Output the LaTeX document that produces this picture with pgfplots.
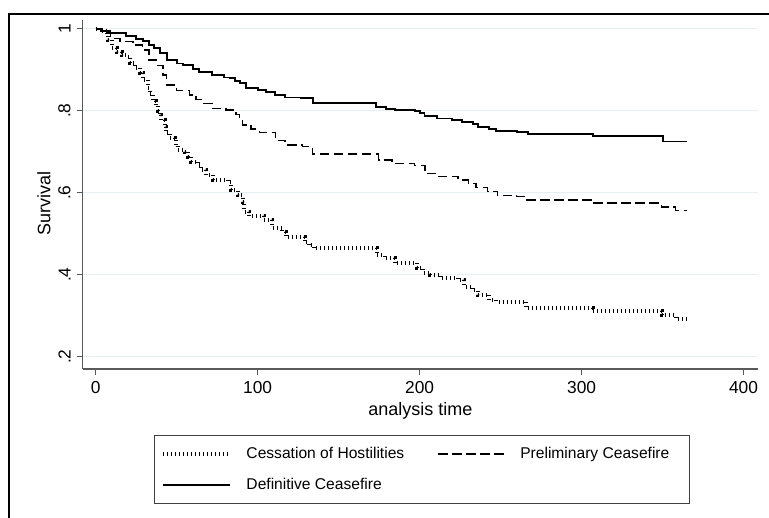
\documentclass[border=0pt]{standalone}
\usepackage{fontspec}
\setmainfont{Liberation Sans}
\usepackage{pgfplots}
\pgfplotsset{compat=1.18}
\begin{document}
\begin{tikzpicture}
\useasboundingbox (0,0) rectangle (576.75pt,-388.5pt);
\draw[line width=1.5pt] (6.9pt,-388.5pt) -- (6.9pt,-10.8pt) -- (576.75pt,-10.8pt);
\begin{axis}[
  at={(62pt,-276.75pt)}, anchor=south west,
  scale only axis, width=506.6pt, height=261.4pt,
  xmin=-8, xmax=409, ymin=0.17, ymax=1.02,
  axis x line*=bottom, axis y line*=left,
  axis line style={draw=black!65, line width=0.8pt, -},
  xtick={0,100,200,300,400},
  ytick={0.2,0.4,0.6,0.8,1}, yticklabels={.2,.4,.6,.8,1},
  tick align=outside, major tick length=4.5pt,
  tick style={draw=black!65, line width=0.8pt},
  ymajorgrids, major grid style={draw={rgb,255:red,232;green,239;blue,243}, line width=1pt},
  /pgf/number format/assume math mode=true,
  ticklabel style={font=\fontsize{13}{15}\selectfont},
  yticklabel style={xshift=-1pt, rotate=90, anchor=south},
  xticklabel style={yshift=-1pt},
  xlabel={analysis time}, ylabel={Survival},
  label style={font=\fontsize{13.5}{16}\selectfont},
  xlabel style={at={(axis description cs:0.5,-0.121)}, anchor=center},
  ylabel style={at={(axis description cs:-0.0575,0.475)}, anchor=center},
  legend columns=2, legend cell align=left,
  legend style={at={(0.1056,-0.1885)}, anchor=north west, draw=black!75, line width=0.75pt,
    font=\fontsize{11.7}{14}\selectfont, inner xsep=5pt, inner ysep=7pt,
    /tikz/every odd column/.append style={column sep=9pt},
    /tikz/every even column/.append style={column sep=23pt}, row sep=9.5pt},
  legend image code/.code={\draw[#1] (0pt,0pt) -- (50pt,0pt);},
]
\addplot[const plot, black, line width=3pt, line cap=butt, dash pattern=on 0.75pt off 2.25pt] coordinates {
(0,1) (2,0.995) (6.9,0.985) (7.9,0.972) (10,0.952) (13,0.944) (16,0.936) (19.2,0.932)
(21.2,0.916) (24.2,0.903) (27.3,0.891) (29.3,0.875) (32.4,0.855) (33.4,0.840) (35.5,0.824)
(37.5,0.814) (38.5,0.800) (39.5,0.789) (40.6,0.777) (42.6,0.761) (43.7,0.745) (45.8,0.733)
(48.8,0.729) (49.9,0.716) (50.9,0.704) (55,0.700) (57.1,0.688) (59.1,0.676) (63.2,0.667)
(65.3,0.655) (68.3,0.643) (72.4,0.631) (81.7,0.625) (83.7,0.607) (87.7,0.594) (90.8,0.578)
(91.8,0.554) (94.8,0.542) (104,0.533) (109,0.515) (115.2,0.505) (117.3,0.493) (129,0.480)
(131.6,0.472) (134.6,0.464) (173.5,0.448) (178.5,0.440) (184.6,0.428) (198.3,0.416)
(202.4,0.405) (206.5,0.400) (212.6,0.391) (223.6,0.387) (227.7,0.371) (232.8,0.363)
(235.9,0.351) (243,0.338) (247.2,0.334) (265.8,0.318) (307,0.311) (349.7,0.302) (358,0.293) (366,0.293)};
\addlegendentry{Cessation of Hostilities}
\addplot[const plot, black, line width=1pt, dash pattern=on 7pt off 3.5pt] coordinates {
(0,1) (4,0.99) (9,0.976) (15,0.968) (23,0.96) (29,0.948) (33,0.924) (37.5,0.911) (41.6,0.887)
(43.7,0.863) (50,0.85) (58,0.838) (62,0.828) (66,0.818) (72,0.806) (80.5,0.802) (86.6,0.79)
(89,0.778) (90.7,0.765) (96,0.755) (101,0.747) (111,0.728) (117,0.716) (127.7,0.712)
(133.8,0.694) (174.6,0.68) (183,0.672) (197,0.667) (203.4,0.647) (211.5,0.639) (223.8,0.631)
(230,0.623) (234.8,0.612) (242,0.603) (248,0.593) (260,0.590) (265,0.582) (307,0.575)
(349.4,0.565) (358,0.557) (365.3,0.557)};
\addlegendentry{Preliminary Ceasefire\hspace*{8pt}}
\addplot[const plot, black, line width=1.4pt] coordinates {
(0,1) (3,0.995) (9,0.989) (19,0.982) (25,0.975) (29,0.969) (33,0.96) (36,0.952) (40,0.94)
(44,0.924) (50,0.915) (54,0.911) (60,0.902) (64,0.895) (72,0.887) (79,0.881) (83,0.879)
(86,0.873) (89,0.867) (93,0.855) (100,0.850) (105,0.846) (111,0.838) (117,0.832) (127,0.830)
(134,0.818) (173,0.808) (179,0.804) (185,0.802) (197,0.800) (200,0.794) (203,0.787)
(211,0.781) (220,0.777) (226,0.773) (233,0.768) (236,0.761) (243,0.755) (247,0.750)
(260,0.749) (267,0.743) (307,0.738) (350,0.725) (365,0.725)};
\addlegendentry{Definitive Ceasefire}
\end{axis}
\end{tikzpicture}
\end{document}
